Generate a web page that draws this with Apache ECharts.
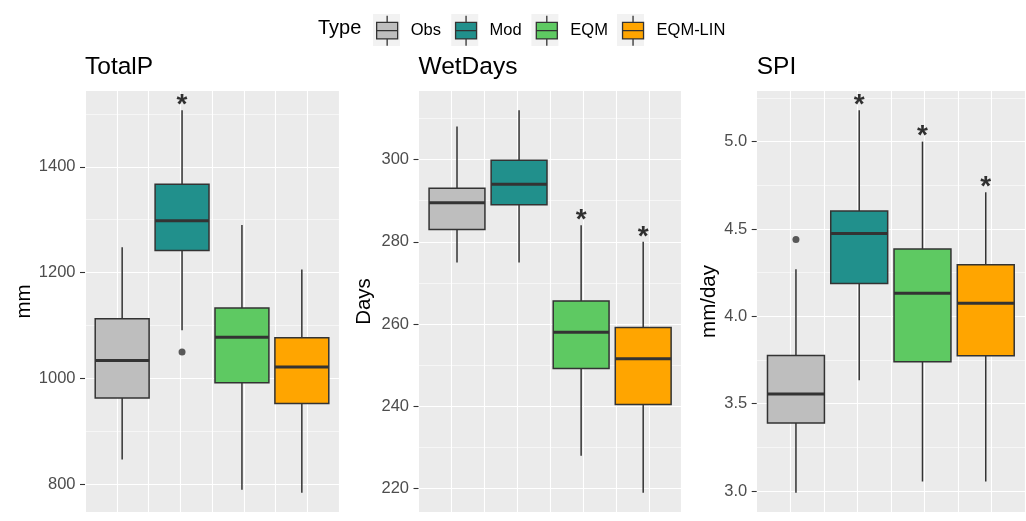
<!DOCTYPE html>
<html>
<head>
<meta charset="utf-8">
<title>Precipitation indices: observed, modelled and bias-corrected</title>
<script src="https://cdn.jsdelivr.net/npm/echarts@6.0.0/dist/echarts.min.js"></script>
<style>
  html, body { margin: 0; padding: 0; background: #ffffff; }
  #chart { width: 1026px; height: 521px; }
</style>
</head>
<body>
<div id="chart"></div>
<script>
// ---- data ---------------------------------------------------------------
const types = ['Obs', 'Mod', 'EQM', 'EQM-LIN'];
const typeColors = ['#bebebe', '#21908c', '#5ec962', '#ffa500'];
const panelTitles = ['TotalP', 'WetDays', 'SPI'];
const yNames = ['mm', 'Days', 'mm/day'];

// one row per type: [lower whisker, Q1, median, Q3, upper whisker]
const totalP = [
  [847, 963, 1034, 1113, 1248],
  [1091, 1242, 1298, 1367, 1507],
  [790, 992, 1078, 1133, 1290],
  [784, 953, 1022, 1077, 1206]
];
const wetDays = [
  [275, 283, 289.5, 293, 308],
  [275, 289, 294, 299.8, 312],
  [228, 249.2, 258, 265.6, 284],
  [219, 240.5, 251.6, 259.2, 280]
];
const spi = [
  [2.99, 3.39, 3.555, 3.776, 4.27],
  [3.635, 4.188, 4.474, 4.603, 5.18],
  [3.055, 3.74, 4.132, 4.386, 5.0],
  [3.055, 3.774, 4.075, 4.295, 4.71]
];

// outlying values: [type index, value]
const totalPOutliers = [[1, 1050]];
const wetDaysOutliers = [];
const spiOutliers = [[0, 4.44]];

// significant difference from Obs (1 = star over the box)
const totalPSig = [0, 1, 0, 0];
const wetDaysSig = [0, 0, 1, 1];
const spiSig = [0, 1, 1, 1];

// axis breaks
const totalPTicks = [800, 1000, 1200, 1400];
const totalPMinor = [900, 1100, 1300, 1500];
const wetDaysTicks = [220, 240, 260, 280, 300];
const wetDaysMinor = [230, 250, 270, 290, 310];
const spiTicks = [3.0, 3.5, 4.0, 4.5, 5.0];
const spiMinor = [3.25, 3.75, 4.25, 4.75, 5.25];

// ---- layout -------------------------------------------------------------
const FONT = '"Liberation Sans", Arial, Helvetica, sans-serif';
const PANEL_TOP = 91;
const PANEL_HEIGHT = 421;
const EDGE = '#333333';

const panels = [
  { title: panelTitles[0], yName: yNames[0], stats: totalP, outliers: totalPOutliers, sig: totalPSig,
    ticks: totalPTicks, minor: totalPMinor, left: 85, width: 254, nameGap: 50, digits: 0 },
  { title: panelTitles[1], yName: yNames[1], stats: wetDays, outliers: wetDaysOutliers, sig: wetDaysSig,
    ticks: wetDaysTicks, minor: wetDaysMinor, left: 418.5, width: 263.2, nameGap: 44, digits: 0 },
  { title: panelTitles[2], yName: yNames[2], stats: spi, outliers: spiOutliers, sig: spiSig,
    ticks: spiTicks, minor: spiMinor, left: 756.7, width: 268.3, nameGap: 37, digits: 1 }
];

// value range of a panel, padded by 5% on both sides
function valueRange(p) {
  let lo = Infinity, hi = -Infinity;
  p.stats.forEach(s => { lo = Math.min(lo, s[0]); hi = Math.max(hi, s[4]); });
  p.outliers.forEach(o => { lo = Math.min(lo, o[1]); hi = Math.max(hi, o[1]); });
  const pad = (hi - lo) * 0.05;
  return [lo - pad, hi + pad];
}

// box, whiskers and median drawn from the axis scales
function renderBox(params, api) {
  const cat = api.value(0);
  const half = api.size([1, 0])[0] * 0.45;
  const pLo = api.coord([cat, api.value(1)]);
  const pQ1 = api.coord([cat, api.value(2)]);
  const pMed = api.coord([cat, api.value(3)]);
  const pQ3 = api.coord([cat, api.value(4)]);
  const pHi = api.coord([cat, api.value(5)]);
  const cx = pMed[0];
  return {
    type: 'group',
    children: [
      { type: 'line', shape: { x1: cx, y1: pQ1[1], x2: cx, y2: pLo[1] },
        style: { stroke: EDGE, lineWidth: 1.5 } },
      { type: 'line', shape: { x1: cx, y1: pQ3[1], x2: cx, y2: pHi[1] },
        style: { stroke: EDGE, lineWidth: 1.5 } },
      { type: 'rect', shape: { x: cx - half, y: pQ3[1], width: half * 2, height: pQ1[1] - pQ3[1] },
        style: { fill: api.visual('color'), stroke: EDGE, lineWidth: 1.5 } },
      { type: 'line', shape: { x1: cx - half, y1: pMed[1], x2: cx + half, y2: pMed[1] },
        style: { stroke: EDGE, lineWidth: 3 } }
    ]
  };
}

const grid = [], xAxis = [], yAxis = [], series = [];
const title = [];

panels.forEach((p, i) => {
  const [ymin, ymax] = valueRange(p);
  const bgGrid = grid.length;
  const boxGrid = bgGrid + 1;
  // panel background with grid lines and labels
  grid.push({ left: p.left, top: PANEL_TOP, width: p.width, height: PANEL_HEIGHT,
              show: true, backgroundColor: '#ebebeb', borderWidth: 0 });
  // dodged boxes occupy the central part of the panel
  const span = p.width * 0.9432;
  grid.push({ left: p.left + (p.width - span) / 2, top: PANEL_TOP, width: span, height: PANEL_HEIGHT,
              show: false });

  xAxis.push({ type: 'value', gridIndex: bgGrid, min: 0, max: 8, interval: 1,
               axisLine: { show: false }, axisTick: { show: false }, axisLabel: { show: false },
               splitLine: { show: true, lineStyle: { color: '#ffffff', width: 1.1 } } });
  const boxX = xAxis.length;
  xAxis.push({ type: 'category', gridIndex: boxGrid, data: types, show: false, boundaryGap: true });

  yAxis.push({
    type: 'value', gridIndex: bgGrid, min: ymin, max: ymax,
    name: p.yName, nameLocation: 'middle', nameRotate: 90, nameGap: p.nameGap,
    nameTextStyle: { fontFamily: FONT, fontSize: 20.5, color: '#000000' },
    axisLine: { show: false },
    axisTick: { show: true, length: 5, customValues: p.ticks, lineStyle: { color: EDGE, width: 1.1 } },
    axisLabel: { customValues: p.ticks, margin: 9.5, color: '#4d4d4d', fontSize: 16.5, fontFamily: FONT,
                 formatter: v => Number(v).toFixed(p.digits) },
    splitLine: { show: true, lineStyle: { color: '#ffffff', width: 1.1 } }
  });
  yAxis.push({
    type: 'value', gridIndex: bgGrid, min: ymin, max: ymax,
    axisLine: { show: false },
    axisTick: { show: false, customValues: p.minor },
    axisLabel: { show: false, customValues: p.minor },
    splitLine: { show: true, lineStyle: { color: '#ffffff', width: 0.55 } }
  });
  const boxY = yAxis.length;
  yAxis.push({ type: 'value', gridIndex: boxGrid, min: ymin, max: ymax, show: false });

  types.forEach((t, k) => {
    series.push({
      type: 'custom', name: t, xAxisIndex: boxX, yAxisIndex: boxY,
      itemStyle: { color: typeColors[k] },
      renderItem: renderBox,
      encode: { x: 0, y: [1, 2, 3, 4, 5] },
      data: [[k].concat(p.stats[k])],
      silent: true, z: 3
    });
  });

  series.push({
    type: 'scatter', name: 'outlier', xAxisIndex: boxX, yAxisIndex: boxY,
    symbolSize: 7, itemStyle: { color: EDGE },
    data: p.outliers, silent: true, z: 4
  });

  series.push({
    type: 'scatter', name: 'signif', xAxisIndex: boxX, yAxisIndex: boxY,
    symbolSize: 0,
    data: p.sig.map((s, k) => s ? [k, p.stats[k][4]] : null).filter(d => d),
    label: { show: true, formatter: '*', position: 'inside', offset: [0, -5],
             fontFamily: FONT, fontSize: 28, fontWeight: 'bold', color: '#000000' },
    silent: true, z: 5
  });

  title.push({ text: p.title, left: p.left, top: 55, padding: 0,
               textStyle: { fontFamily: FONT, fontSize: 24.5, fontWeight: 'normal', color: '#000000' } });
});

title.push({ text: 'Type', left: 318, top: 18.5, padding: 0,
             textStyle: { fontFamily: FONT, fontSize: 20, fontWeight: 'normal', color: '#000000' } });

// legend keys and their light key panels share the same item spacing
const legendText = { fontFamily: FONT, fontSize: 16.5 };
const option = {
  animation: false,
  backgroundColor: '#ffffff',
  title,
  legend: [
    {
      data: types,
      left: 376, top: 15, padding: 0, z: 6,
      itemWidth: 21, itemHeight: 30, itemGap: 14,
      icon: 'path://M10.5 0V6.7M0 6.7H21V23.3H0ZM0 15H21M10.5 23.3V30',
      itemStyle: { borderColor: EDGE, borderWidth: 1.3 },
      textStyle: Object.assign({ color: '#000000', padding: [0, 0, 0, 8] }, legendText),
      selectedMode: false
    },
    {
      data: types,
      left: 373, top: 14, padding: 0, z: 1,
      itemWidth: 27, itemHeight: 32, itemGap: 14,
      icon: 'rect',
      itemStyle: { color: '#f2f2f2', borderWidth: 0 },
      textStyle: Object.assign({ color: 'rgba(0,0,0,0)', padding: [0, 0, 0, 2] }, legendText),
      selectedMode: false
    }
  ],
  grid, xAxis, yAxis, series
};

const chart = echarts.init(document.getElementById('chart'));
chart.setOption(option);
</script>
</body>
</html>
